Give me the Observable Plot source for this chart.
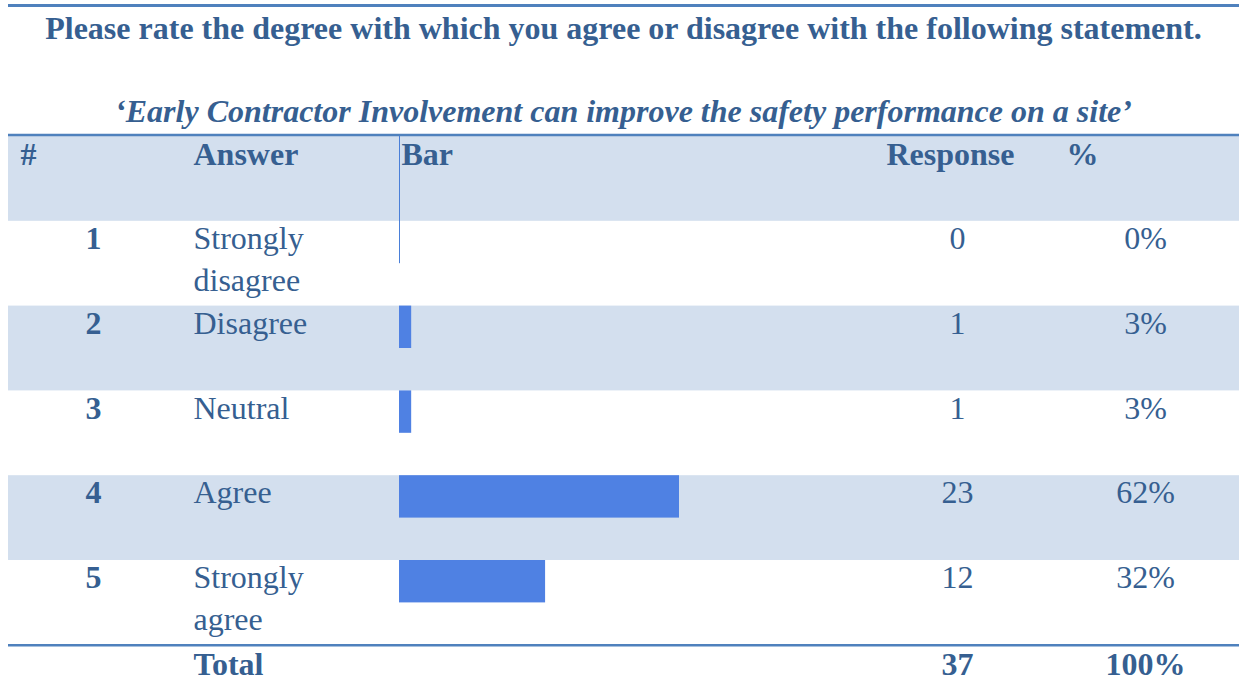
<!DOCTYPE html>
<html>
<head>
<meta charset="utf-8">
<script src="https://cdn.jsdelivr.net/npm/d3@7"></script>
<script src="https://cdn.jsdelivr.net/npm/@observablehq/plot@0.6"></script>
<style>
  html, body { margin: 0; padding: 0; background: #fff; }
  body { width: 1239px; height: 685px; overflow: hidden; font-family: "Liberation Serif", "Times New Roman", serif; color: #365f91; }
  #head { position: relative; margin-top: 4px; margin-left: 8px; height: 130px; border-top: 3px solid #4f81bd; box-sizing: border-box; }
  #title { position: absolute; left: 0; right: 0; top: 5px; text-align: center; font-weight: bold; font-size: 32px; line-height: 32px; white-space: nowrap; }
  #subtitle { position: absolute; left: 0; right: 0; top: 88px; text-align: center; font-weight: bold; font-style: italic; font-size: 32px; line-height: 32px; white-space: nowrap; }
  #chart svg { display: block; }
</style>
</head>
<body>
<div id="head">
  <div id="title">Please rate the degree with which you agree or disagree with the following statement.</div>
  <div id="subtitle">‘Early Contractor Involvement can improve the safety performance on a site’</div>
</div>
<div id="chart"></div>
<script>
// ---- data ----
const headers = ["#", "Answer", "Bar", "Response", "%"];
const numbers = [1, 2, 3, 4, 5];
const answers = ["Strongly\ndisagree", "Disagree", "Neutral", "Agree", "Strongly\nagree"];
const responses = [0, 1, 1, 23, 12];
const percents = ["0%", "3%", "3%", "62%", "32%"];
const totalLabel = "Total";
const totalResponses = 37;
const totalPercent = "100%";

// ---- layout ----
const W = 1239, H = 551;
const marginTop = 2, marginLeft = 8;
const rowPx = 84.8;
const barStartPx = 399;
const unitPx = 840 / 69;
const textColor = "#365f91";
const bandColor = "#d3dfee";
const lineColor = "#4f81bd";
const barColor = "#4f81e3";
const font = 32;

const rows = numbers.map((n, i) => ({
  num: n, answer: answers[i], count: responses[i], pct: percents[i], row: i + 1
}));
const bandRows = [0].concat(rows.filter(d => d.row % 2 === 0).map(d => d.row));
const totalRow = rows.length + 1;

const xLo = -(barStartPx - marginLeft) / unitPx;
const xHi = (W - barStartPx) / unitPx;
const yHi = (H - marginTop) / rowPx;

const common = { fill: textColor, fontSize: font, lineAnchor: "top", frameAnchor: "left", lineHeight: 1.31 };

const chart = Plot.plot({
  width: W, height: H,
  marginTop, marginLeft, marginRight: 0, marginBottom: 0,
  x: { domain: [xLo, xHi], axis: null },
  y: { domain: [0, yHi], reverse: true, axis: null },
  style: { fontFamily: "'Liberation Serif', 'Times New Roman', serif", background: "transparent", overflow: "visible" },
  marks: [
    // banded rows
    Plot.rect(bandRows, { y1: d => d, y2: d => d + 1, fill: bandColor }),
    // header rule & total rule
    Plot.ruleY([0], { stroke: lineColor, strokeWidth: 2.5, dy: -1.5 }),
    Plot.ruleY([totalRow], { stroke: lineColor, strokeWidth: 2.5 }),
    // bar baseline
    Plot.ruleX([0], { y1: 0, y2: 1.5, stroke: "#4a7fd8", strokeWidth: 1 }),
    // bars
    Plot.rect(rows, { x1: 0, x2: "count", y1: "row", y2: d => d.row + 0.5, fill: barColor }),
    // header texts
    Plot.text([headers[0]], { ...common, y: 0, text: d => d, dx: 12, dy: -1, textAnchor: "start", fontWeight: "bold" }),
    Plot.text([headers[1]], { ...common, y: 0, text: d => d, dx: 185, dy: -1, textAnchor: "start", fontWeight: "bold" }),
    Plot.text([headers[2]], { ...common, y: 0, text: d => d, dx: 393, dy: -1, textAnchor: "start", fontWeight: "bold" }),
    Plot.text([headers[3]], { ...common, y: 0, text: d => d, dx: 878, dy: -1, textAnchor: "start", fontWeight: "bold" }),
    Plot.text([headers[4]], { ...common, y: 0, text: d => d, dx: 1058, dy: -1, textAnchor: "start", fontWeight: "bold" }),
    // body
    Plot.text(rows, { ...common, y: "row", text: d => String(d.num), dx: 85, dy: -2, textAnchor: "middle", fontWeight: "bold" }),
    Plot.text(rows, { ...common, y: "row", text: "answer", dx: 185, dy: -2, textAnchor: "start" }),
    Plot.text(rows, { ...common, y: "row", text: d => String(d.count), dx: 949, dy: -2, textAnchor: "middle" }),
    Plot.text(rows, { ...common, y: "row", text: "pct", dx: 1137, dy: -2, textAnchor: "middle" }),
    // total
    Plot.text([totalLabel], { ...common, y: totalRow, text: d => d, dx: 185, dy: 0, textAnchor: "start", fontWeight: "bold" }),
    Plot.text([totalResponses], { ...common, y: totalRow, text: d => String(d), dx: 949, dy: 0, textAnchor: "middle", fontWeight: "bold" }),
    Plot.text([totalPercent], { ...common, y: totalRow, text: d => d, dx: 1137, dy: 0, textAnchor: "middle", fontWeight: "bold" })
  ]
});
document.getElementById("chart").appendChild(chart);
</script>
</body>
</html>
